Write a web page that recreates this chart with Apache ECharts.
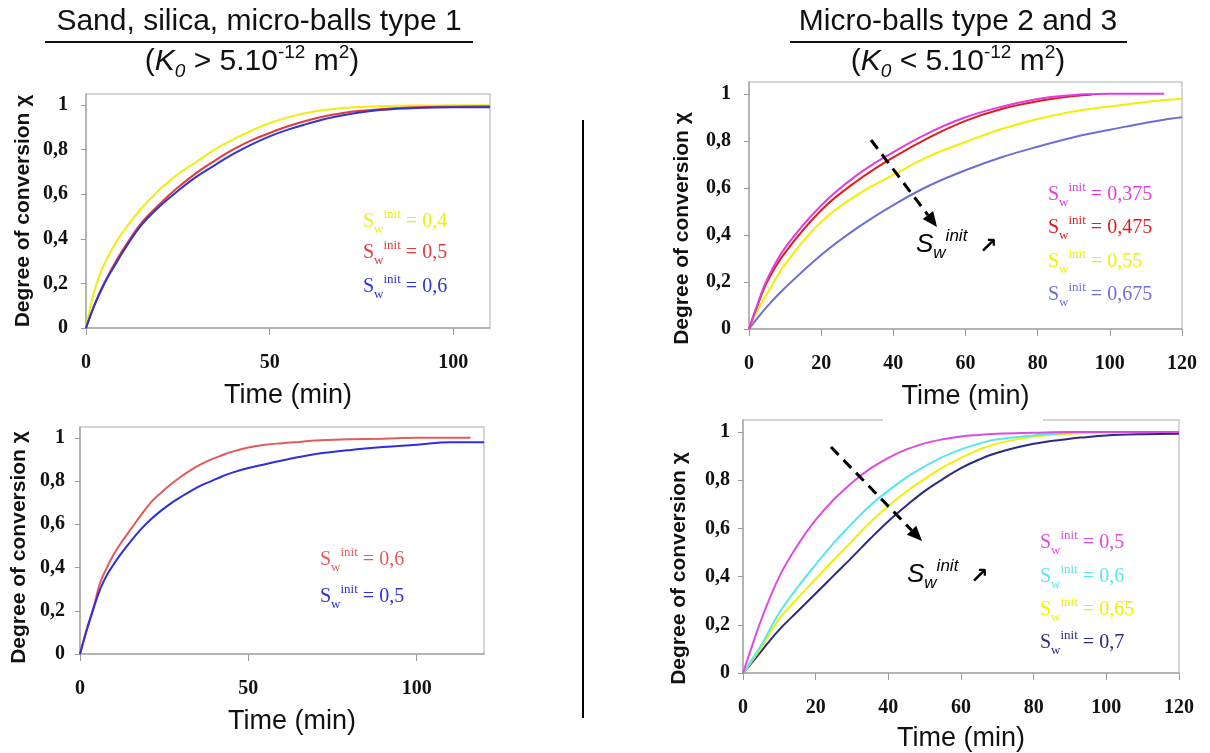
<!DOCTYPE html>
<html><head><meta charset="utf-8">
<script src="https://cdn.jsdelivr.net/npm/echarts@6/dist/echarts.min.js"></script>
<style>html,body{margin:0;padding:0;background:#fff}#c{width:1210px;height:753px}</style>
</head><body><div id="c"></div>
<script>
// ---------- DATA ----------
// Top-left panel (Sand, silica, micro-balls type 1)
const timeTL = [0,2,4,6,8,10,15,20,25,30,35,40,45,50,55,60,65,70,75,80,90,100,110];
const tlSw04 = [0,0.15,0.25,0.32,0.38,0.43,0.535,0.62,0.69,0.745,0.80,0.845,0.885,0.92,0.945,0.965,0.978,0.987,0.992,0.995,0.998,1.0,1.0];
const tlSw05 = [0,0.09,0.17,0.235,0.295,0.35,0.47,0.555,0.63,0.695,0.75,0.80,0.842,0.875,0.905,0.93,0.95,0.965,0.975,0.982,0.99,0.993,0.995];
const tlSw06 = [0,0.09,0.165,0.23,0.285,0.34,0.46,0.545,0.615,0.678,0.73,0.78,0.823,0.86,0.89,0.915,0.938,0.955,0.968,0.978,0.987,0.99,0.99];
const tlLabels = ['0,4','0,5','0,6'];

// Top-right panel (Micro-balls type 2 and 3)
const timeTR = [0,2,5,10,20,30,40,50,60,70,80,90,95,100,110,115,120];
const trSw0375 = [0,0.09,0.21,0.345,0.525,0.655,0.752,0.835,0.90,0.945,0.978,0.995,0.998,1.0,1.0,1.0,null];
const trSw0475 = [0,0.085,0.2,0.325,0.505,0.63,0.73,0.815,0.885,0.935,0.968,0.99,0.997,null,null,null,null];
const trSw055  = [0,0.07,0.15,0.275,0.455,0.57,0.655,0.735,0.795,0.85,0.893,0.925,0.936,0.946,0.965,0.973,0.979];
const trSw0675 = [0,0.04,0.095,0.175,0.315,0.43,0.527,0.61,0.675,0.73,0.775,0.815,0.832,0.847,0.877,0.89,0.90];
const trLabels = ['0,375','0,475','0,55','0,675'];

// Bottom-left panel
const timeBL = [0,2,4,6,8,10,12,15,18,21,24,27,30,33,36,39,42,45,50,55,60,65,70,80,90,100,110,116,120];
const blSw06 = [0,0.115,0.215,0.33,0.40,0.46,0.51,0.575,0.64,0.70,0.745,0.785,0.82,0.852,0.878,0.90,0.918,0.935,0.955,0.968,0.975,0.981,0.988,0.993,0.996,1.0,1.0,1.0,null];
const blSw05 = [0,0.11,0.21,0.30,0.365,0.415,0.46,0.52,0.575,0.622,0.662,0.697,0.727,0.755,0.78,0.80,0.82,0.838,0.86,0.878,0.895,0.911,0.925,0.943,0.957,0.968,0.98,0.98,0.98];
const blLabels = ['0,6','0,5'];

// Bottom-right panel
const timeBR = [0,2,5,10,15,20,25,30,35,40,45,50,55,60,65,70,80,90,93,100,110,120];
const brSw05  = [0,0.09,0.22,0.40,0.53,0.635,0.72,0.79,0.848,0.893,0.928,0.953,0.97,0.982,0.988,0.993,0.997,1.0,1.0,1.0,1.0,1.0];
const brSw06  = [0,0.045,0.115,0.25,0.355,0.45,0.54,0.62,0.695,0.757,0.812,0.858,0.897,0.928,0.952,0.97,0.986,0.997,1.0,null,null,null];
const brSw065 = [0,0.04,0.105,0.225,0.31,0.39,0.47,0.547,0.625,0.693,0.753,0.805,0.853,0.893,0.927,0.952,0.981,0.993,0.995,0.998,1.0,1.0];
const brSw07  = [0,0.035,0.09,0.18,0.255,0.33,0.405,0.48,0.557,0.63,0.695,0.755,0.805,0.85,0.886,0.914,0.951,0.972,0.977,0.986,0.991,0.993];
const brLabels = ['0,5','0,6','0,65','0,7'];

const yTicks = [0,0.2,0.4,0.6,0.8,1];
const xTicks50 = [0,50,100];
const xTicks20 = [0,20,40,60,80,100,120];

// ---------- CHART ----------
const SANS = "'Liberation Sans', Arial, sans-serif";
const SERIF = "'Liberation Serif', 'Times New Roman', serif";
const chart = echarts.init(document.getElementById('c'), null, {renderer:'canvas'});

const grids = [
  {left:86, top:94, width:404, height:234},
  {left:749, top:82, width:433, height:247},
  {left:80, top:427, width:404, height:227},
  {left:743, top:420, width:436, height:253}
].map(g => Object.assign(g, {show:true, borderColor:'#c8c8c8', borderWidth:1.5, backgroundColor:'transparent'}));

function xAx(gi, max, ticks, nameGap, namePad) {
  return {type:'value', gridIndex:gi, min:0, max:max,
    name:'Time (min)', nameLocation:'middle', nameGap:nameGap,
    nameTextStyle:{fontFamily:SANS, fontSize:27, color:'#111', padding:namePad||0},
    axisLine:{show:true, onZero:false, lineStyle:{color:'#a8a8a8', width:1.5}},
    axisTick:{show:true, customValues:ticks, length:7, lineStyle:{color:'#999'}},
    axisLabel:{customValues:ticks, margin:25, fontFamily:SERIF, fontSize:20, fontWeight:'bold', color:'#111'},
    splitLine:{show:false}};
}
function yAx(gi, nameGap, labelMargin, namePad) {
  return {type:'value', gridIndex:gi, min:0, max:1.05,
    name:'Degree of conversion χ', nameLocation:'middle', nameGap:nameGap,
    nameTextStyle:{fontFamily:SANS, fontWeight:'bold', fontSize:21, color:'#111', padding:namePad||0},
    axisLine:{show:true, onZero:false, lineStyle:{color:'#a8a8a8', width:1.5}},
    axisTick:{show:true, customValues:yTicks, length:5, lineStyle:{color:'#999'}},
    axisLabel:{customValues:yTicks, margin:labelMargin, formatter:v => String(v).replace('.', ','),
      fontFamily:SERIF, fontSize:20, fontWeight:'bold', color:'#111'},
    splitLine:{show:false}};
}

function line(name, xs, ys, color, gi) {
  const data = [];
  xs.forEach((t,i) => { if (ys[i] !== null && ys[i] !== undefined) data.push([t, ys[i]]); });
  return {type:'line', name:name, xAxisIndex:gi, yAxisIndex:gi, data:data,
    symbol:'none', showSymbol:false, smooth:0.4,
    lineStyle:{color:color, width:2}, itemStyle:{color:color}, emphasis:{disabled:true}};
}

const C = {
  tlY:'#eeee10', tlR:'#e23a3a', tlB:'#2f35d2',
  trM:'#e03ee0', trR:'#e01c1c', trY:'#f0f000', trB:'#6c6fd4',
  blR:'#e25a5a', blB:'#2e2edc',
  brM:'#e04ae0', brC:'#58e6ee', brY:'#f0f000', brN:'#2a2a85'
};

const series = [
  line('Sw init = '+tlLabels[0], timeTL, tlSw04, C.tlY, 0),
  line('Sw init = '+tlLabels[1], timeTL, tlSw05, C.tlR, 0),
  line('Sw init = '+tlLabels[2], timeTL, tlSw06, C.tlB, 0),
  line('Sw init = '+trLabels[3], timeTR, trSw0675, C.trB, 1),
  line('Sw init = '+trLabels[2], timeTR, trSw055, C.trY, 1),
  line('Sw init = '+trLabels[1], timeTR, trSw0475, C.trR, 1),
  line('Sw init = '+trLabels[0], timeTR, trSw0375, C.trM, 1),
  line('Sw init = '+blLabels[0], timeBL, blSw06, C.blR, 2),
  line('Sw init = '+blLabels[1], timeBL, blSw05, C.blB, 2),
  line('Sw init = '+brLabels[3], timeBR, brSw07, C.brN, 3),
  line('Sw init = '+brLabels[2], timeBR, brSw065, C.brY, 3),
  line('Sw init = '+brLabels[1], timeBR, brSw06, C.brC, 3),
  line('Sw init = '+brLabels[0], timeBR, brSw05, C.brM, 3)
];

// ---------- ANNOTATIONS ----------
function legendText(x, y, val, color) {
  return {type:'text', z:60, style:{x:x, y:y, align:'left', verticalAlign:'middle',
    text:'{m|S}{sb|w}{sp|init}{m| = ' + val + '}',
    rich:{
      m:{fontFamily:SERIF, fontSize:20, lineHeight:28, fill:color},
      sb:{fontFamily:SERIF, fontSize:13, lineHeight:13, verticalAlign:'bottom', fill:color},
      sp:{fontFamily:SERIF, fontSize:13, lineHeight:13, verticalAlign:'top', fill:color}
    }}};
}
function swArrowText(x, y) {
  return [
    {type:'text', z:60, style:{x:x, y:y, align:'left', verticalAlign:'middle',
      text:'{s|S}{sb|w}{sp|init}',
      rich:{
        s:{fontFamily:SANS, fontStyle:'italic', fontSize:26, lineHeight:34, fill:'#000'},
        sb:{fontFamily:SANS, fontStyle:'italic', fontSize:17, lineHeight:17, verticalAlign:'bottom', fill:'#000'},
        sp:{fontFamily:SANS, fontStyle:'italic', fontSize:17, lineHeight:17, verticalAlign:'top', fill:'#000'}
      }}},
    {type:'text', z:60, style:{x:x+63, y:y+2, align:'left', verticalAlign:'middle', text:'↗',
      font:"bold 22px 'DejaVu Sans', sans-serif", fill:'#000'}}
  ];
}
function dashedArrow(x1, y1, x2, y2) {
  const dx = x2-x1, dy = y2-y1, L = Math.hypot(dx, dy), ux = dx/L, uy = dy/L;
  const hl = 15, hw = 6.5, bx = x2-ux*hl, by = y2-uy*hl;
  return [
    {type:'line', z:60, shape:{x1:x1, y1:y1, x2:bx, y2:by}, style:{stroke:'#000', lineWidth:3, lineDash:[11,7]}},
    {type:'polygon', z:60, shape:{points:[[x2,y2],[bx-uy*hw, by+ux*hw],[bx+uy*hw, by-ux*hw]]}, style:{fill:'#000'}}
  ];
}
function titleLine2(x, y, sign) {
  return {type:'text', z:60, style:{x:x, y:y, align:'center', verticalAlign:'middle',
    text:'{p|(}{k|K}{ks|0}{p| ' + sign + ' 5.10}{sp|-12}{p| m}{sp|2}{p|)}',
    rich:{
      p:{fontFamily:SANS, fontSize:30, lineHeight:38, fill:'#111'},
      k:{fontFamily:SANS, fontStyle:'italic', fontSize:30, lineHeight:38, fill:'#111'},
      ks:{fontFamily:SANS, fontStyle:'italic', fontSize:19, lineHeight:19, verticalAlign:'bottom', fill:'#111'},
      sp:{fontFamily:SANS, fontSize:19, lineHeight:19, verticalAlign:'top', fill:'#111'}
    }}};
}

const graphics = [].concat(
  [
    {type:'text', z:60, style:{x:259, y:22, align:'center', verticalAlign:'middle',
      text:'Sand, silica, micro-balls type 1', font:"30px " + SANS, fill:'#111'}},
    {type:'line', z:60, shape:{x1:45, y1:42, x2:473, y2:42}, style:{stroke:'#111', lineWidth:2}},
    titleLine2(252, 62, '>'),
    {type:'text', z:60, style:{x:958, y:22, align:'center', verticalAlign:'middle',
      text:'Micro-balls type 2 and 3', font:"30px " + SANS, fill:'#111'}},
    {type:'line', z:60, shape:{x1:790, y1:42, x2:1127, y2:42}, style:{stroke:'#111', lineWidth:2}},
    titleLine2(958, 62, '<'),
    {type:'line', z:60, shape:{x1:583, y1:120, x2:583, y2:718}, style:{stroke:'#000', lineWidth:2}},
    {type:'rect', z:55, shape:{x:883, y:413, width:160, height:11}, style:{fill:'#fff'}}
  ],
  [legendText(363, 222, tlLabels[0], C.tlY), legendText(363, 253, tlLabels[1], C.tlR), legendText(363, 287, tlLabels[2], C.tlB)],
  [legendText(1048, 195, trLabels[0], C.trM), legendText(1048, 228, trLabels[1], C.trR),
   legendText(1048, 262, trLabels[2], C.trY), legendText(1048, 295, trLabels[3], C.trB)],
  [legendText(320, 560, blLabels[0], C.blR), legendText(320, 597, blLabels[1], C.blB)],
  [legendText(1040, 543, brLabels[0], C.brM), legendText(1040, 577, brLabels[1], C.brC),
   legendText(1040, 610, brLabels[2], C.brY), legendText(1040, 643, brLabels[3], C.brN)],
  swArrowText(916, 245), swArrowText(907, 575),
  dashedArrow(871, 140, 937, 227), dashedArrow(831, 447, 922, 541)
);

chart.setOption({
  animation:false,
  backgroundColor:'#ffffff',
  grid:grids,
  xAxis:[xAx(0,110,xTicks50,54), xAx(1,120,xTicks20,54), xAx(2,120,xTicks50,54,[0,0,0,20]), xAx(3,120,xTicks20,52)],
  yAxis:[yAx(0,52,18), yAx(1,56,18,[0,46,0,0]), yAx(2,50,15,[0,14,0,0]), yAx(3,53,13,[0,44,0,0])],
  series:series,
  graphic:graphics
});
</script></body></html>
